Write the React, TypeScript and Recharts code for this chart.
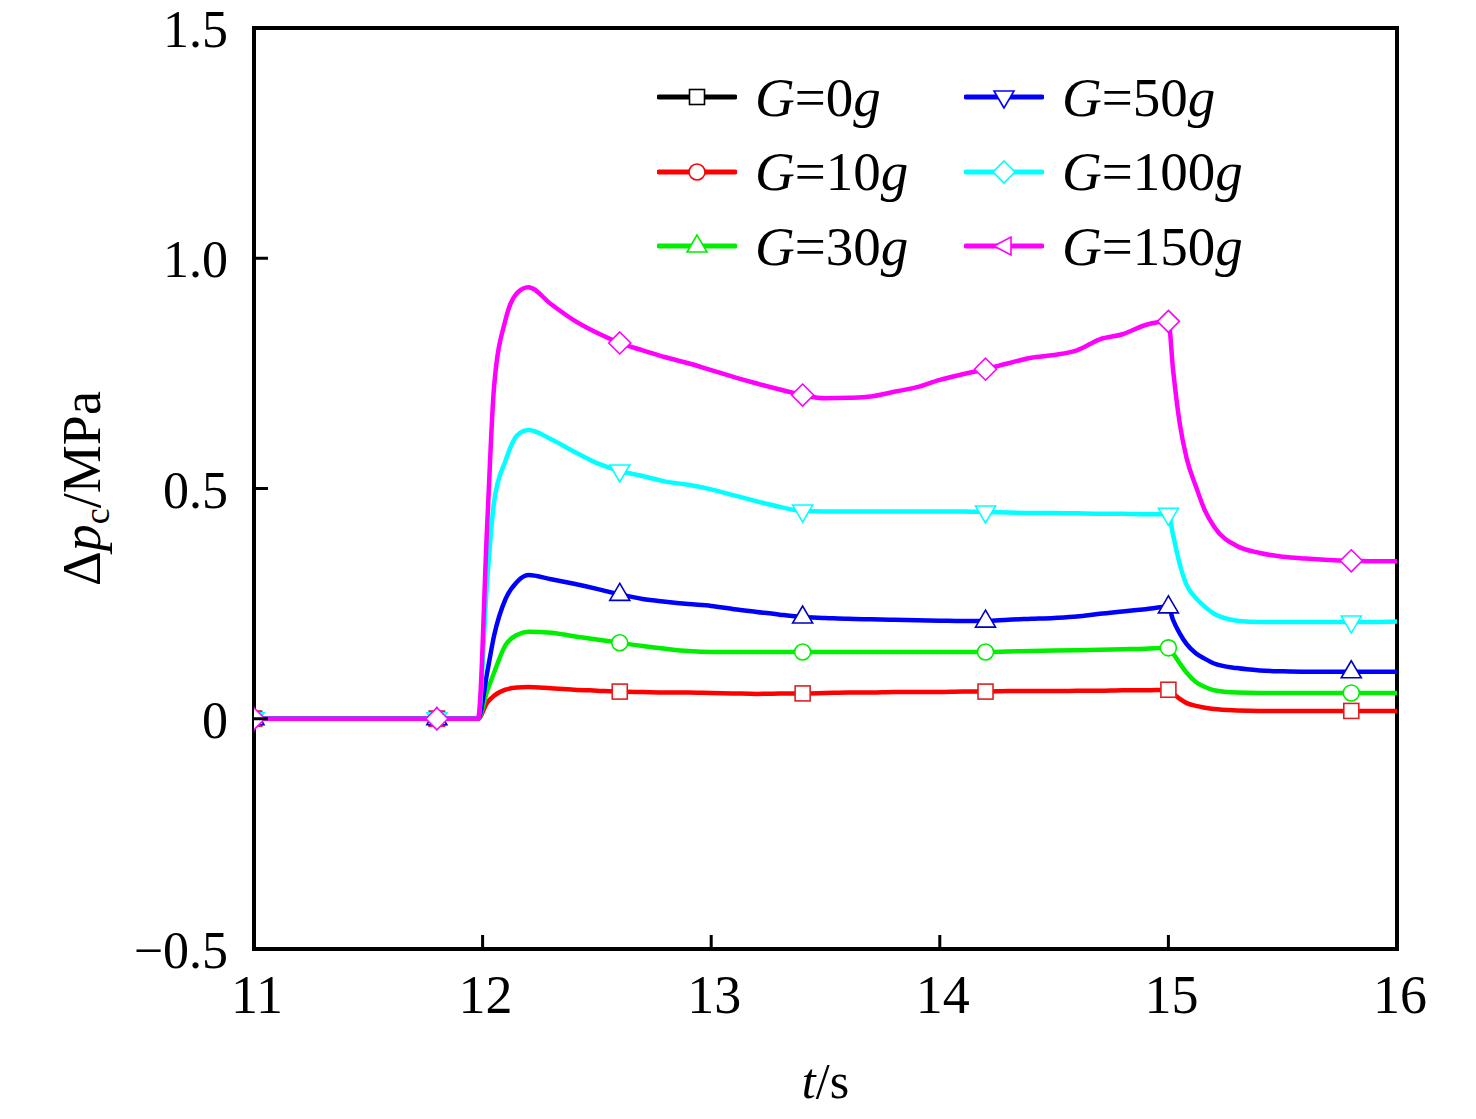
import React from 'react';
import { LineChart, Line, XAxis, YAxis, ReferenceArea } from 'recharts';

// time (s)
const times = [
  11, 11.4, 11.8, 11.98, 12.02, 12.05, 12.1, 12.15, 12.2, 12.3, 12.4, 12.5, 12.6, 12.7, 12.8, 12.9,
  13.0, 13.1, 13.2, 13.3, 13.4, 13.5, 13.6, 13.7, 13.8, 13.9, 14.0, 14.1, 14.2, 14.3, 14.4, 14.5,
  14.6, 14.7, 14.8, 14.9, 15.0, 15.02, 15.05, 15.08, 15.12, 15.16, 15.2, 15.3, 15.4, 15.5, 15.6,
  15.7, 15.8, 15.9, 16.0,
];

// Δp_c (MPa) per overload
const g0 = [0, 0, 0, 0];
const g10 = [
  0, 0, 0, 0, 0.035, 0.05, 0.063, 0.068, 0.069, 0.066, 0.063, 0.061, 0.059, 0.058, 0.057, 0.057,
  0.056, 0.055, 0.054, 0.055, 0.055, 0.056, 0.057, 0.057, 0.058, 0.058, 0.058, 0.059, 0.059, 0.06,
  0.06, 0.06, 0.061, 0.061, 0.062, 0.062, 0.063, 0.055, 0.043, 0.034, 0.028, 0.024, 0.021, 0.018,
  0.017, 0.017, 0.017, 0.017, 0.017, 0.017, 0.017,
];
const g30 = [
  0, 0, 0, 0, 0.06, 0.1, 0.16, 0.182, 0.189, 0.187, 0.179, 0.172, 0.165, 0.158, 0.152, 0.147,
  0.145, 0.145, 0.145, 0.145, 0.145, 0.145, 0.145, 0.145, 0.145, 0.145, 0.145, 0.145, 0.145, 0.146,
  0.147, 0.148, 0.149, 0.15, 0.151, 0.152, 0.154, 0.142, 0.12, 0.1, 0.08, 0.069, 0.062, 0.057,
  0.056, 0.056, 0.056, 0.056, 0.056, 0.056, 0.056,
];
const g50 = [
  0, 0, 0, 0, 0.1, 0.18, 0.26, 0.297, 0.312, 0.303, 0.293, 0.282, 0.27, 0.26, 0.254, 0.249,
  0.245, 0.238, 0.232, 0.226, 0.221, 0.219, 0.217, 0.216, 0.215, 0.214, 0.213, 0.212, 0.212, 0.215,
  0.217, 0.219, 0.222, 0.228, 0.233, 0.238, 0.243, 0.215, 0.185, 0.162, 0.142, 0.13, 0.12, 0.11,
  0.105, 0.103, 0.102, 0.102, 0.102, 0.102, 0.102,
];
const g100 = [
  0, 0, 0, 0, 0.3, 0.47, 0.56, 0.615, 0.627, 0.607, 0.58, 0.555, 0.538, 0.527, 0.515, 0.508,
  0.498, 0.485, 0.472, 0.46, 0.451, 0.45, 0.45, 0.45, 0.45, 0.45, 0.45, 0.45, 0.449, 0.448,
  0.447, 0.447, 0.446, 0.445, 0.445, 0.444, 0.444, 0.4, 0.335, 0.29, 0.262, 0.243, 0.228, 0.213,
  0.21, 0.21, 0.21, 0.21, 0.21, 0.21, 0.211,
];
const g150 = [
  0, 0, 0, 0, 0.42, 0.72, 0.866, 0.924, 0.937, 0.9, 0.865, 0.838, 0.816, 0.8, 0.785, 0.772,
  0.757, 0.742, 0.728, 0.715, 0.703, 0.696, 0.697, 0.7, 0.71, 0.72, 0.736, 0.748, 0.759, 0.772,
  0.784, 0.79, 0.8, 0.824, 0.835, 0.855, 0.863, 0.76, 0.64, 0.565, 0.505, 0.452, 0.417, 0.375,
  0.36, 0.352, 0.348, 0.345, 0.343, 0.342, 0.342,
];

const markerTimes = [11, 11.8, 12.6, 13.4, 14.2, 15.0, 15.8];
const xTicks = [11, 12, 13, 14, 15, 16];
const yTicks = [-0.5, 0, 0.5, 1.0, 1.5];
const yTickLabels = ['\u22120.5', '0', '0.5', '1.0', '1.5'];

const FONT = '"Liberation Serif", "Times New Roman", serif';

const series = [
  { key: 'g0', label: '0', color: '#000000', mark: 'square', legendMark: 'square' },
  { key: 'g10', label: '10', color: '#ff0000', mark: 'square', legendMark: 'circle' },
  { key: 'g30', label: '30', color: '#00ee00', mark: 'circle', legendMark: 'up' },
  { key: 'g50', label: '50', color: '#0000ff', mark: 'up', legendMark: 'down' },
  { key: 'g100', label: '100', color: '#00ffff', mark: 'down', legendMark: 'diamond' },
  { key: 'g150', label: '150', color: '#ff00ff', mark: 'diamond', legendMark: 'left' },
];

const data = times.map((t, i) => ({
  t,
  g0: i < g0.length ? g0[i] : null,
  g10: g10[i],
  g30: g30[i],
  g50: g50[i],
  g100: g100[i],
  g150: g150[i],
}));

function markerShape(mark: string, cx: number, cy: number, color: string, key?: string) {
  const common = { fill: '#fff', stroke: color, strokeWidth: 1.6 };
  switch (mark) {
    case 'square':
      return <rect key={key} x={cx - 7.5} y={cy - 7.5} width={15} height={15} {...common} />;
    case 'circle':
      return <circle key={key} cx={cx} cy={cy} r={8} {...common} />;
    case 'up':
      return <polygon key={key} points={`${cx},${cy - 11} ${cx - 10},${cy + 6} ${cx + 10},${cy + 6}`} {...common} />;
    case 'down':
      return <polygon key={key} points={`${cx},${cy + 11} ${cx - 10},${cy - 6} ${cx + 10},${cy - 6}`} {...common} />;
    case 'diamond':
      return <polygon key={key} points={`${cx},${cy - 11} ${cx + 11},${cy} ${cx},${cy + 11} ${cx - 11},${cy}`} {...common} />;
    case 'left':
      return <polygon key={key} points={`${cx - 10},${cy} ${cx + 7},${cy - 9} ${cx + 7},${cy + 9}`} {...common} />;
    default:
      return null;
  }
}

const makeDot = (mark: string, color: string) => (props: any) => {
  const { cx, cy, payload, index } = props;
  const k = `dot-${mark}-${index}`;
  if (cx == null || cy == null || !markerTimes.includes(payload.t)) return <g key={k} />;
  return markerShape(mark, cx, cy, color, k);
};

const XTick = (props: any) => {
  const { x, y, payload } = props;
  const v = payload.value;
  return (
    <g>
      {v !== 11 && v !== 16 && <line x1={x} y1={y} x2={x} y2={y - 14} stroke="#000" strokeWidth={3} />}
      <text x={x + 3} y={y + 64} textAnchor="middle" fontFamily={FONT} fontSize={54} fill="#000">
        {v}
      </text>
    </g>
  );
};

const YTick = (props: any) => {
  const { x, y, payload } = props;
  const v = payload.value;
  const idx = yTicks.indexOf(v);
  return (
    <g>
      {v !== -0.5 && v !== 1.5 && <line x1={x} y1={y} x2={x + 14} y2={y} stroke="#000" strokeWidth={3} />}
      <text x={x - 26} y={y + 19} textAnchor="end" fontFamily={FONT} fontSize={52} fill="#000">
        {yTickLabels[idx]}
      </text>
    </g>
  );
};

const XLabel = (props: any) => {
  const { viewBox } = props;
  const cx = viewBox.x + viewBox.width / 2;
  return (
    <text x={cx} y={viewBox.y + 149} textAnchor="middle" fontFamily={FONT} fontSize={50} fill="#000">
      <tspan fontStyle="italic">t</tspan>/s
    </text>
  );
};

const YLabel = (props: any) => {
  const { viewBox } = props;
  const cy = viewBox.y + viewBox.height / 2;
  const bx = 92;
  return (
    <text
      x={bx}
      y={cy}
      transform={`rotate(-90, ${bx}, ${cy})`}
      textAnchor="middle"
      fontFamily={FONT}
      fontSize={54}
      fill="#000"
    >
      Δ<tspan fontStyle="italic">p</tspan>
      <tspan fontSize={36} dy={9}>c</tspan>
      <tspan dy={-9}>/MPa</tspan>
    </text>
  );
};

const LegendBox = () => (
  <div
    style={{
      position: 'absolute',
      left: 649,
      top: 60,
      display: 'grid',
      gridTemplateColumns: '307px 307px',
      gridTemplateRows: 'repeat(3, 74.5px)',
      gridAutoFlow: 'column',
      fontFamily: FONT,
      fontSize: 55,
      color: '#000',
    }}
  >
    {series.map((s) => (
      <div key={s.key} style={{ display: 'flex', alignItems: 'center', height: 74.5 }}>
        <svg width={80} height={30} style={{ marginRight: 18, flexShrink: 0 }}>
          <line x1={2} y1={15} x2={78} y2={15} stroke={s.color} strokeWidth={5} strokeLinecap="round" />
          {markerShape(s.legendMark, 40, 15, s.color)}
        </svg>
        <span style={{ whiteSpace: 'nowrap', lineHeight: 1 }}>
          <i>G</i>={s.label}
          <i>g</i>
        </span>
      </div>
    ))}
  </div>
);

export default function App() {
  return (
    <div style={{ position: 'relative', width: 1460, height: 1108, marginTop: -8, background: '#fff' }}>
      <LineChart width={1460} height={1108} data={data} margin={{ top: 28, right: 71, bottom: 0, left: 0 }}>
        <XAxis
          dataKey="t"
          type="number"
          domain={[11, 16]}
          ticks={xTicks}
          allowDataOverflow
          axisLine={false}
          tickLine={false}
          tickSize={0}
          tickMargin={0}
          height={159}
          tick={<XTick />}
          label={{ content: <XLabel /> }}
        />
        <YAxis
          type="number"
          domain={[-0.5, 1.5]}
          ticks={yTicks}
          allowDataOverflow
          axisLine={false}
          tickLine={false}
          tickSize={0}
          tickMargin={0}
          width={246}
          tick={<YTick />}
          label={{ content: <YLabel /> }}
        />
        {series.map((s) => (
          <Line
            key={s.key}
            dataKey={s.key}
            type="monotone"
            stroke={s.color}
            strokeWidth={4.5}
            dot={makeDot(s.mark, s.mark === 'up' ? '#0000c0' : s.mark === 'square' ? '#e02020' : s.color)}
            activeDot={false}
            isAnimationActive={false}
            connectNulls={false}
          />
        ))}
        <ReferenceArea
          x1={11}
          x2={16}
          y1={-0.5}
          y2={1.5}
          fill="none"
          stroke="#000"
          strokeWidth={4}
          ifOverflow="visible"
        />
      </LineChart>
      <LegendBox />
    </div>
  );
}
